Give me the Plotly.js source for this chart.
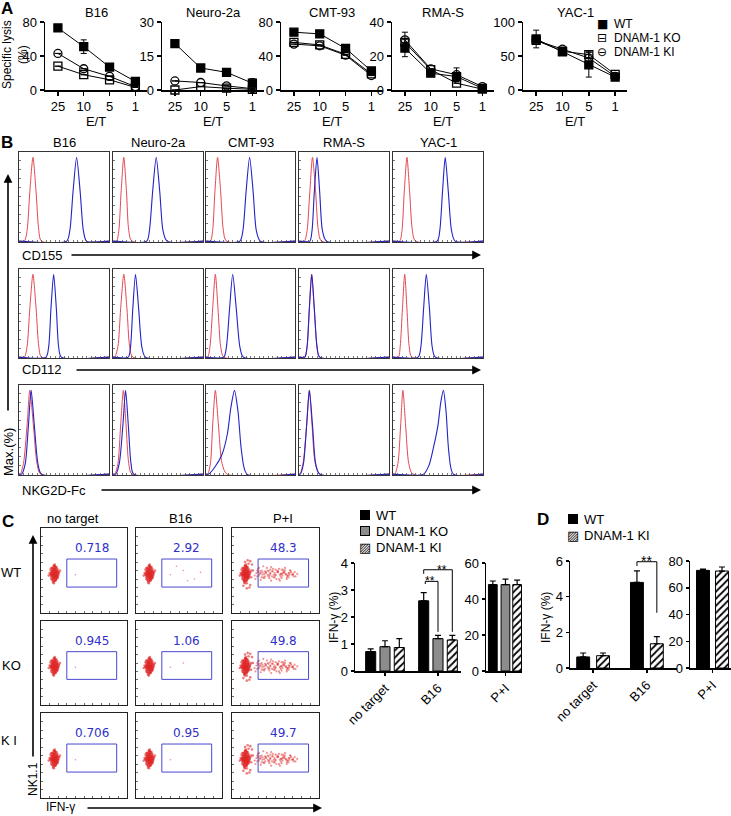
<!DOCTYPE html>
<html><head><meta charset="utf-8">
<script src="https://cdn.plot.ly/plotly-3.0.1.min.js"></script>
<style>html,body{margin:0;padding:0;background:#fff}</style>
</head><body><div id="chart" style="width:731px;height:816px"></div>
<script>
// ---------- Panel A data ----------
const A_TITLES=['B16','Neuro-2a','CMT-93','RMA-S','YAC-1'];
const ET=['25','10','5','1'];
const A_YMAX=[80,30,80,40,100];
const A_DTICK=[40,15,40,20,50];
const SERIES_NAMES=['WT','DNAM-1 KO','DNAM-1 KI'];
const WT_A=[[73,51,27,10],[20.5,9.7,7.8,3.0],[68,66,49,22.5],[24.6,9.9,7.9,1],[75,56,37,19]];
const WT_A_ERR=[[0,8,0,0],[0,0,0,2],[0,0,0,0],[5,0,0,0],[13,0,18,0]];
const KO_A=[[28,18,12,3],[0,1.5,0.8,0.3],[56,53,42,19],[28,12,4,0.5],[73,57,52,23]];
const KO_A_ERR=[[0,0,0,0],[0,0,0,0],[0,0,0,0],[0,0,0,0],[0,0,5,0]];
const KI_A=[[43,25,16,4],[4,3.3,1.8,0.6],[54,52,41,17],[29.5,12.4,9,2],[73,60,47,20]];
const KI_A_ERR=[[0,0,0,0],[0,0,0,0],[0,0,0,0],[4.5,0,4,0],[0,0,0,0]];

// ---------- Panel B data (histogram outlines, % of axis) ----------
const B_CELLS=['B16','Neuro-2a','CMT-93','RMA-S','YAC-1'];
const B_MARKERS=['CD155','CD112','NKG2D-Fc'];
const PEAK_Y=[0,12,55,94,55,12,0];
const CD155_RED=[[6,9,12,15.5,19,22,25],[4,6.5,9,12,15,17.5,21],[5,7.5,10,13,16.5,19.5,23],[6,9,12,15,18.5,21.5,25],[7.5,10,12.5,15.5,18.5,21.5,25]];
const CD155_BLUE=[[53,56.5,60,64,68,71.5,75],[37.5,40.5,44,48,52,55.5,60],[38,41.5,45,49,53,56.5,61],[12,14.5,17,20,23,26,30.5],[49,52,55,58,61.5,65,69]];
const CD112_RED=[[6,9,12,15.5,19,22,25],[2,5.5,8.5,12,15.5,18.5,22],[2,4.5,7.5,10.5,13.5,16.5,20],[6.5,9,11.5,14,17,20,23],[6,8,10.5,13,15.5,18,21]];
const CD112_BLUE=[[30,33,35.5,38.5,41.5,44,47],[17,19.5,22,25,28.5,32,36],[20,23,26.5,30,34,38,42],[6.5,9,11.5,14.2,17,20,23],[28,31,34,37,40.5,43.5,47]];
const NKG2D_RED=[[1.5,5,9,12,16,20,24],[2,5.5,8.5,11.5,14.5,17.5,21],[2,5,7.5,10.5,14,18,23.5],[1,4.5,8.5,11.5,14.5,18,23],[2,5.5,8.5,11,14,17.5,22]];
const NKG2D_BLUE=[[3,7,10.5,13.5,17,21,25],[3,7,11,14,17,20,23],[3,10,18,24,28,32,36,40,46],[1.5,5,8.5,11.5,15,18.5,23],[34,40,45,50,53,56,59,62,67]];
const NKG2D_BLUE_Y=[null,null,[0,8,22,45,75,94,70,25,0],null,[0,10,30,55,80,94,70,25,0]];

// ---------- Panel C flow data ----------
const FLOW_COLS=['no target','B16','P+I'];
const FLOW_ROWS=['WT','KO','K I'];
const GATE_PCT=['0.718','2.92','48.3','0.945','1.06','49.8','0.706','0.95','49.7'];
const GATE_X=[30,88];
const GATE_Y=[30.5,63.5];
const CL_X=[16,14,18,12,15,17,19,13,16,20,11,14,17,15,18,13,16,19,12,15,17,14,16,18,13,15,17,20,11,16,14,18,15,13,17,16,12,19,15,14,17,16,18,13,15,21,10,16,14,17,22,9,15,18,13,16,12,19,15,17];
const CL_Y=[46,44,48,42,50,45,43,47,52,46,45,40,41,48,51,53,38,49,49,44,54,47,42,40,43,56,47,44,51,49,36,45,41,39,50,46,53,52,47,50,38,55,43,46,45,48,47,57,42,44,50,44,35,54,45,43,40,41,52,46];
const CL2_X=[14,16,18,13,17,15,19,12,16,18,15,13,17,20,14,16,18,12,15,17,19,14,16,13,18,15,17,11,16,19,14,17,15,18,13,16,20,15,17,14];
const CL2_Y=[45,47,43,49,46,41,50,47,44,48,52,45,39,46,50,55,45,44,37,53,42,48,46,51,49,43,47,46,39,45,53,44,49,42,46,51,48,55,41,38];
const PI_X=[28,31,34,36,39,41,44,46,49,51,53,56,58,61,63,66,69,72,75,30,33,37,40,43,47,50,54,57,60,64,67,71,35,38,42,45,48,52,55,59,62,65,29,32,36,44,50,57,63,70];
const PI_Y=[47,44,50,42,48,45,51,43,47,40,49,46,44,50,42,47,45,48,46,52,39,46,53,41,49,45,52,41,47,44,50,43,45,49,43,54,42,48,38,51,45,47,43,49,55,47,51,46,40,45];
const PI2_X=[26,29,32,35,38,41,44,47,50,53,56,59,62,65,68,27,31,34,39,43,46,49,52,55,58,61,64,67,70,73,33,37,42,48,54,60,66,30,45,57];
const PI2_Y=[44,50,46,48,43,50,46,52,44,48,43,49,46,42,48,40,53,42,47,44,49,42,50,45,47,53,44,50,46,43,47,41,49,45,40,48,45,48,38,51];
const PI_CL_X=[13,15,17,19,21,23,14,18,22,16,20,24,12,17,21];
const PI_CL_Y=[32,60,35,58,33,57,38,62,42,55,30,50,45,29,61];
const SPARSE_X=[40,55,68,47,75,60,35,52];
const SPARSE_Y=[45,50,40,55,48,38,52,44];
const SPARSE_N=[[1,6,0],[1,2,0],[1,1,0]];

// ---------- Panel C / D bar data ----------
const BAR_CATS=['no target','B16'];
const PI_CAT=['P+I'];
const C_WT=[0.72,2.6],  C_WT_ERR=[0.1,0.3];
const C_KO=[0.9,1.2],   C_KO_ERR=[0.22,0.12];
const C_KI=[0.87,1.15], C_KI_ERR=[0.33,0.17];
const C_PI_WT=[48], C_PI_WT_ERR=[2];
const C_PI_KO=[48], C_PI_KO_ERR=[3];
const C_PI_KI=[48], C_PI_KI_ERR=[2.5];
const D_WT=[0.62,4.8],  D_WT_ERR=[0.22,0.65];
const D_KI=[0.69,1.36], D_KI_ERR=[0.15,0.4];
const D_PI_WT=[73],   D_PI_WT_ERR=[1];
const D_PI_KI=[72.5], D_PI_KI_ERR=[3];

// ---------- helpers ----------
const W=731,H=816;
const FONT='Liberation Sans, Arial, sans-serif';
const px=x=>x/W, py=y=>1-y/H;
const xd=a=>[a[0]/W,a[1]/W];
const yd=a=>[1-a[1]/H,1-a[0]/H];
const layout={width:W,height:H,margin:{l:0,r:0,t:0,b:0},paper_bgcolor:'#fff',plot_bgcolor:'rgba(0,0,0,0)',
  font:{family:FONT,size:13,color:'#000'},annotations:[],shapes:[],showlegend:false};
const data=[];
let n=0;
function addAxes(xdom,ydom,xo,yo){n++;const id=n===1?'':String(n);
  layout['xaxis'+id]=Object.assign({domain:xdom,anchor:'y'+id},xo);
  layout['yaxis'+id]=Object.assign({domain:ydom,anchor:'x'+id},yo);
  return {x:'x'+id,y:'y'+id};}
function ann(text,x,y,o){layout.annotations.push(Object.assign({text:text,x:px(x),y:py(y),xref:'paper',yref:'paper',showarrow:false,xanchor:'center',yanchor:'middle',font:{size:13}},o||{}));}
function arrow(x0,y0,x1,y1){layout.annotations.push({text:'',x:px(x1),y:py(y1),xref:'paper',yref:'paper',axref:'pixel',ayref:'pixel',ax:x0-x1,ay:y0-y1,showarrow:true,arrowhead:2,arrowsize:1.1,arrowwidth:1.6,arrowcolor:'#000'});}
function seg(ax,x0,y0,x1,y1){layout.shapes.push({type:'line',xref:ax.x,yref:ax.y,x0:x0,y0:y0,x1:x1,y1:y1,line:{color:'#000',width:1}});}
function swatch(x,y,fill){ann('&nbsp;',x,y,{width:8,height:8,bgcolor:fill,bordercolor:'#000',borderwidth:1,borderpad:0,font:{size:6}});}
function legendText(text,x,y,size){ann(text,x,y,{xanchor:'left',font:{size:size||13}});}
const zeros=a=>a.map(()=>0);

// ---------- Panel A ----------
const A_DOM_X=[[45,147],[162,264],[281,383],[392,494],[523,627]];
const axisA={showline:true,linewidth:1.5,linecolor:'#000',ticks:'outside',ticklen:4,tickwidth:1.5,tickcolor:'#000',tickfont:{size:13},showgrid:false,zeroline:false};
ann('<b>A</b>',7,9,{font:{size:17,family:FONT}});
for(let i=0;i<5;i++){
  const ax=addAxes(xd(A_DOM_X[i]),yd([22,90]),
    Object.assign({type:'category',range:[-0.5,3.45],title:{text:'E/T',font:{size:13},standoff:0}},axisA),
    Object.assign({range:[0,A_YMAX[i]],tick0:0,dtick:A_DTICK[i]},axisA));
  const sets=[[KO_A[i],KO_A_ERR[i],'square-open',1],[KI_A[i],KI_A_ERR[i],'circle-open',2],[WT_A[i],WT_A_ERR[i],'square',0]];
  sets.forEach(s=>{
    data.push({type:'scatter',mode:'lines+markers',x:ET,y:s[0],xaxis:ax.x,yaxis:ax.y,name:SERIES_NAMES[s[3]],
      showlegend:false,cliponaxis:false,
      line:{color:'#000',width:1},marker:{symbol:s[2],size:8,color:'#000',line:{color:'#000',width:1.3}},
      error_y:{type:'data',array:s[1],color:'#000',thickness:1,width:3}});
  });
  ann(A_TITLES[i],(A_DOM_X[i][0]+A_DOM_X[i][1])/2,13);
}
ann('Specific lysis<br>(%)',15,55,{textangle:-90,font:{size:12}});
// legend A
const A_LEG_Y=[24,38,52];
const A_LEG_SYM=['■','⊟','⊖'];
for(let k=0;k<3;k++){
  ann(A_LEG_SYM[k],602,A_LEG_Y[k],{font:{family:'DejaVu Sans, sans-serif',size:12}});
  legendText(SERIES_NAMES[k],612,A_LEG_Y[k],12);
}

// ---------- Panel B ----------
const B_BOX_X=[[19,109],[113,203],[206,295],[299,389],[393,483]];
const B_BOX_Y=[[152,242],[269,358],[385,475]];
const B_ROWS=[[CD155_RED,CD155_BLUE,[null,null,null,null,null]],[CD112_RED,CD112_BLUE,[null,null,null,null,null]],[NKG2D_RED,NKG2D_BLUE,NKG2D_BLUE_Y]];
const axisB={range:[0,100],showline:true,mirror:true,linewidth:1,linecolor:'#333',ticks:'inside',ticklen:2,tickwidth:0.8,tickcolor:'#555',dtick:5,showticklabels:false,showgrid:false,zeroline:false};
ann('<b>B</b>',7,142,{font:{size:17,family:FONT}});
for(let r=0;r<3;r++){
  for(let c=0;c<5;c++){
    const ax=addAxes(xd(B_BOX_X[c]),yd(B_BOX_Y[r]),Object.assign({},axisB),Object.assign({},axisB,{range:[-1,100],dtick:10}));
    const red=B_ROWS[r][0][c], blue=B_ROWS[r][1][c], by=B_ROWS[r][2][c]||PEAK_Y;
    data.push({type:'scatter',mode:'lines',x:[0].concat(red,[100]),y:[0].concat(PEAK_Y,[0]),xaxis:ax.x,yaxis:ax.y,showlegend:false,
      line:{color:'#e0343c',width:0.9,shape:'spline',smoothing:0.7}});
    data.push({type:'scatter',mode:'lines',x:[0].concat(blue,[100]),y:[0].concat(by,[0]),xaxis:ax.x,yaxis:ax.y,showlegend:false,
      line:{color:'#2323c8',width:1.1,shape:'spline',smoothing:0.7}});
    if(r===0) ann(B_CELLS[c],(B_BOX_X[c][0]+B_BOX_X[c][1])/2,142);
  }
}
ann(B_MARKERS[0],20,255,{xanchor:'left'});
ann(B_MARKERS[1],20,370,{xanchor:'left'});
ann(B_MARKERS[2],20,490,{xanchor:'left'});
arrow(70,255,481,255);
arrow(75,370,481,370);
arrow(100,490,481,490);
arrow(8,412,8,174);
ann('Max.(%)',8,452,{textangle:-90});

// ---------- Panel C flow ----------
const FLOW_BOX_X=[[41,127],[136,222],[232,319]];
const FLOW_BOX_Y=[[528,613],[621,705],[713,798]];
const axisF={range:[0,100],showline:true,mirror:true,linewidth:1,linecolor:'#222',ticks:'inside',ticklen:2,tickwidth:0.8,tickcolor:'#444',dtick:10,showticklabels:false,showgrid:false,zeroline:false};
ann('<b>C</b>',8,521,{font:{size:17,family:FONT}});
const dot={color:'#e02828',size:2.6,opacity:0.6};
for(let r=0;r<3;r++){
  for(let c=0;c<3;c++){
    const ax=addAxes(xd(FLOW_BOX_X[c]),yd(FLOW_BOX_Y[r]),Object.assign({},axisF),Object.assign({},axisF));
    data.push({type:'scatter',mode:'markers',x:CL_X,y:CL_Y,xaxis:ax.x,yaxis:ax.y,showlegend:false,marker:dot});
    data.push({type:'scatter',mode:'markers',x:CL2_X,y:CL2_Y,xaxis:ax.x,yaxis:ax.y,showlegend:false,marker:dot});
    if(c===2){
      data.push({type:'scatter',mode:'markers',x:PI_X,y:PI_Y,xaxis:ax.x,yaxis:ax.y,showlegend:false,marker:{color:'#e02828',size:2.2,opacity:0.5}});
      data.push({type:'scatter',mode:'markers',x:PI2_X,y:PI2_Y,xaxis:ax.x,yaxis:ax.y,showlegend:false,marker:{color:'#e02828',size:2.2,opacity:0.5}});
      data.push({type:'scatter',mode:'markers',x:PI_CL_X,y:PI_CL_Y,xaxis:ax.x,yaxis:ax.y,showlegend:false,marker:dot});
    }
    const ns=SPARSE_N[r][c];
    if(ns>0) data.push({type:'scatter',mode:'markers',x:SPARSE_X.slice(0,ns),y:SPARSE_Y.slice(0,ns),xaxis:ax.x,yaxis:ax.y,showlegend:false,marker:{color:'#e04848',size:1.6,opacity:0.6}});
    layout.shapes.push({type:'rect',xref:ax.x,yref:ax.y,x0:GATE_X[0],x1:GATE_X[1],y0:GATE_Y[0],y1:GATE_Y[1],line:{color:'#4848d0',width:1}});
    layout.annotations.push({text:GATE_PCT[r*3+c],xref:ax.x,yref:ax.y,x:59,y:76,showarrow:false,font:{family:'DejaVu Sans, sans-serif',size:12,color:'#3030c8'}});
  }
}
ann(FLOW_COLS[0],73,518);
ann(FLOW_COLS[1],180,518);
ann(FLOW_COLS[2],283,518);
ann(FLOW_ROWS[0],11,572);
ann(FLOW_ROWS[1],11,665);
ann(FLOW_ROWS[2],9,740);
arrow(33,758,33,535);
ann('NK1.1',33,779,{textangle:-90,font:{size:12}});
ann('IFN-γ',60,807,{font:{size:12}});
arrow(86,808,322,808);

// ---------- Panel C bars ----------
const axisBar={showline:true,linewidth:1.5,linecolor:'#000',ticks:'outside',ticklen:3,tickwidth:1.5,tickcolor:'#000',tickfont:{size:13},showgrid:false,zeroline:false};
function bar(ax,cats,y,err,fill,name,center,width){
  const t={type:'bar',x:cats,y:y,xaxis:ax.x,yaxis:ax.y,name:name,showlegend:false,
    width:width,offset:center-width/2,
    marker:{color:fill==='hatch'?'#fff':fill,line:{color:'#000',width:1}},
    error_y:{type:'data',array:err,arrayminus:zeros(err),symmetric:false,color:'#000',thickness:1.2,width:3}};
  if(fill==='hatch') t.marker.pattern={shape:'/',fgcolor:'#000',bgcolor:'#fff',size:5,solidity:0.35};
  return t;
}
const c1=addAxes(xd([355,461]),yd([563,671]),Object.assign({type:'category',range:[-0.566,1.434],tickangle:-45},axisBar),Object.assign({range:[0,4],dtick:1},axisBar));
data.push(bar(c1,BAR_CATS,C_WT,C_WT_ERR,'#000',SERIES_NAMES[0],-0.27,0.19));
data.push(bar(c1,BAR_CATS,C_KO,C_KO_ERR,'#8c8c8c',SERIES_NAMES[1],0,0.19));
data.push(bar(c1,BAR_CATS,C_KI,C_KI_ERR,'hatch',SERIES_NAMES[2],0.27,0.19));
seg(c1,0.73,3.6,0.73,3.75); seg(c1,0.73,3.75,1.27,3.75); seg(c1,1.27,3.75,1.27,1.45);
seg(c1,0.76,3.22,0.76,3.32); seg(c1,0.76,3.32,1.0,3.32); seg(c1,1.0,3.32,1.0,1.45);
layout.annotations.push({text:'**',xref:c1.x,yref:c1.y,x:1.07,y:3.75,yanchor:'middle',showarrow:false,font:{size:12}});
layout.annotations.push({text:'**',xref:c1.x,yref:c1.y,x:0.85,y:3.32,yanchor:'middle',showarrow:false,font:{size:12}});
ann('IFN-γ (%)',334,618,{textangle:-90,font:{size:12}});
const c2=addAxes(xd([486,522]),yd([563,671]),Object.assign({type:'category',range:[-0.4,0.34],tickangle:-45},axisBar),Object.assign({range:[0,60],dtick:20},axisBar));
data.push(bar(c2,PI_CAT,C_PI_WT,C_PI_WT_ERR,'#000',SERIES_NAMES[0],-0.26,0.18));
data.push(bar(c2,PI_CAT,C_PI_KO,C_PI_KO_ERR,'#8c8c8c',SERIES_NAMES[1],0,0.18));
data.push(bar(c2,PI_CAT,C_PI_KI,C_PI_KI_ERR,'hatch',SERIES_NAMES[2],0.24,0.18));
// legend C
swatch(365,515,'#000'); legendText(SERIES_NAMES[0],374,515);
swatch(365,531,'#8c8c8c'); legendText(SERIES_NAMES[1],374,531);
ann('▨',365,547,{font:{family:'DejaVu Sans, sans-serif',size:13}}); legendText(SERIES_NAMES[2],374,547);

// ---------- Panel D ----------
ann('<b>D</b>',543,519,{font:{size:17,family:FONT}});
const d1=addAxes(xd([570,677]),yd([561,668]),Object.assign({type:'category',range:[-0.43,1.56],tickangle:-45},axisBar),Object.assign({range:[0,6],dtick:2},axisBar));
data.push(bar(d1,BAR_CATS,D_WT,D_WT_ERR,'#000',SERIES_NAMES[0],-0.185,0.24));
data.push(bar(d1,BAR_CATS,D_KI,D_KI_ERR,'hatch',SERIES_NAMES[2],0.185,0.24));
seg(d1,0.815,5.72,0.815,5.96); seg(d1,0.815,5.96,1.185,5.96); seg(d1,1.185,5.96,1.185,3.1);
layout.annotations.push({text:'**',xref:d1.x,yref:d1.y,x:1.0,y:5.96,yanchor:'middle',yshift:1,showarrow:false,font:{size:14}});
ann('IFN-γ (%)',546,618,{textangle:-90,font:{size:12}});
const d2=addAxes(xd([690,731]),yd([561,668]),Object.assign({type:'category',range:[-0.417,0.343],tickangle:-45},axisBar),Object.assign({range:[0,80],dtick:20},axisBar));
data.push(bar(d2,PI_CAT,D_PI_WT,D_PI_WT_ERR,'#000',SERIES_NAMES[0],-0.176,0.24));
data.push(bar(d2,PI_CAT,D_PI_KI,D_PI_KI_ERR,'hatch',SERIES_NAMES[2],0.176,0.24));
// legend D
swatch(573,519,'#000'); legendText(SERIES_NAMES[0],582,519);
ann('▨',573,535,{font:{family:'DejaVu Sans, sans-serif',size:13}}); legendText(SERIES_NAMES[2],582,535);

Plotly.newPlot('chart',data,layout,{displayModeBar:false,staticPlot:true});
</script></body></html>
